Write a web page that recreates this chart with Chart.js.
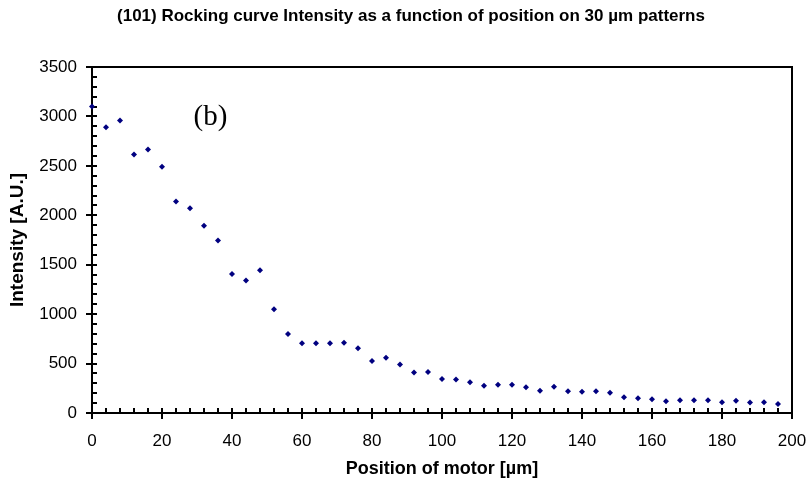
<!DOCTYPE html>
<html>
<head>
<meta charset="utf-8">
<script src="https://cdn.jsdelivr.net/npm/chart.js@4.4.1/dist/chart.umd.min.js"></script>
<style>
  html, body { margin: 0; padding: 0; background: #fff; }
  #wrap { width: 811px; height: 485px; }
</style>
</head>
<body>
<div id="wrap"><canvas id="rockingChart" width="811" height="485"></canvas></div>
<script>
// motor position [µm]
const positions = [
  0, 4, 8, 12, 16, 20, 24, 28, 32, 36, 40, 44, 48, 52, 56, 60, 64, 68, 72, 76,
  80, 84, 88, 92, 96, 100, 104, 108, 112, 116, 120, 124, 128, 132, 136, 140, 144, 148, 152, 156,
  160, 164, 168, 172, 176, 180, 184, 188, 192, 196
];
// intensity [A.U.]
const intensity = [
  3100, 2890, 2960, 2615, 2665, 2490, 2140, 2070, 1895, 1745, 1405, 1340, 1445, 1050, 800, 705, 705, 705, 710, 655,
  525, 560, 490, 410, 415, 345, 340, 310, 275, 285, 285, 260, 225, 265, 220, 215, 220, 205, 160, 150,
  140, 120, 130, 130, 130, 110, 125, 105, 110, 90
];
const xTicks = [0, 20, 40, 60, 80, 100, 120, 140, 160, 180, 200];
const yTicks = [0, 500, 1000, 1500, 2000, 2500, 3000, 3500];
const panelLabel = '(b)';
const chartTitle = '(101) Rocking curve Intensity as a function of position on 30 \u00b5m patterns';

const FONT = '"Liberation Sans", Arial, sans-serif';

// title, frame box + excel-like tick marks (major cross, minor inside), drawn under the points
const framePlugin = {
  id: 'frame',
  beforeDatasetsDraw(chart) {
    const { ctx, chartArea: a, scales } = chart;
    const xs = scales.x, ys = scales.y;
    ctx.save();

    ctx.fillStyle = '#000';
    ctx.font = 'bold 17px ' + FONT;
    ctx.textAlign = 'center';
    ctx.textBaseline = 'middle';
    ctx.fillText(chartTitle, 411, 16);

    ctx.strokeStyle = '#000';
    ctx.lineWidth = 2;
    ctx.strokeRect(a.left, a.top, a.right - a.left, a.bottom - a.top);

    ctx.beginPath();
    for (let v = 0; v <= 200; v += 4) {
      const px = Math.round(xs.getPixelForValue(v));
      ctx.moveTo(px, a.bottom - 5);
      ctx.lineTo(px, v % 20 === 0 ? a.bottom + 6 : a.bottom);
    }
    for (let v = 0; v <= 3500; v += 100) {
      const py = Math.round(ys.getPixelForValue(v));
      ctx.moveTo(v % 500 === 0 ? a.left - 6 : a.left, py);
      ctx.lineTo(a.left + 5, py);
    }
    ctx.stroke();

    // panel label
    ctx.font = '29px "Liberation Serif", "Times New Roman", serif';
    ctx.textAlign = 'left';
    ctx.fillText(panelLabel, xs.getPixelForValue(29), ys.getPixelForValue(2990));
    ctx.restore();
  }
};

const ctx = document.getElementById('rockingChart');
new Chart(ctx, {
  type: 'scatter',
  data: {
    datasets: [{
      label: 'Intensity',
      data: positions.map((x, i) => ({ x: x, y: intensity[i] })),
      pointStyle: 'rectRot',
      pointRadius: 3,
      pointBorderWidth: 0,
      backgroundColor: '#000080',
      borderColor: '#000080',
      clip: false
    }]
  },
  options: {
    responsive: false,
    animation: false,
    layout: { padding: { left: 6, right: 19, top: 67, bottom: 5 } },
    plugins: {
      legend: { display: false },
      tooltip: { enabled: false },
      title: { display: false }
    },
    scales: {
      x: {
        type: 'linear',
        min: 0,
        max: 200,
        afterBuildTicks: (axis) => { axis.ticks = xTicks.map(v => ({ value: v })); },
        afterFit: (scale) => {
          scale.height = 67;
          scale.paddingLeft = 0;
          scale.paddingRight = 0;
        },
        grid: { display: false, drawTicks: false },
        border: { display: false },
        ticks: {
          color: '#000',
          padding: 18,
          maxRotation: 0,
          font: { family: FONT, size: 17 },
          callback: (v) => String(v)
        },
        title: {
          display: true,
          text: 'Position of motor [\u00b5m]',
          color: '#000',
          font: { family: FONT, size: 18, weight: 'bold' },
          padding: { top: 7, bottom: 0 }
        }
      },
      y: {
        type: 'linear',
        min: 0,
        max: 3500,
        afterBuildTicks: (axis) => { axis.ticks = yTicks.map(v => ({ value: v })); },
        afterFit: (scale) => {
          scale.width = 86;
          scale.paddingTop = 0;
          scale.paddingBottom = 0;
        },
        grid: { display: false, drawTicks: false },
        border: { display: false },
        ticks: {
          color: '#000',
          padding: 15,
          font: { family: FONT, size: 17 },
          callback: (v) => String(v)
        },
        title: {
          display: true,
          text: 'Intensity [A.U.]',
          color: '#000',
          font: { family: FONT, size: 19, weight: 'bold' },
          padding: { top: 0, bottom: 10 }
        }
      }
    }
  },
  plugins: [framePlugin]
});
</script>
</body>
</html>
